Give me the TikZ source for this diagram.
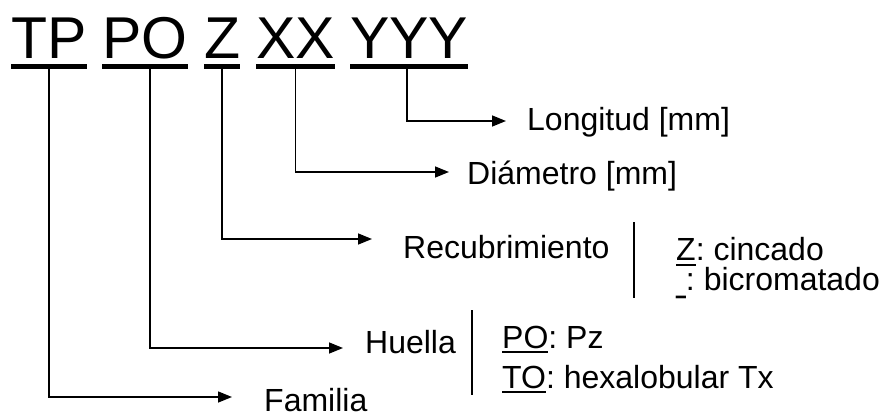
\documentclass[tikz,border=0pt]{standalone}
\usepackage{fontspec}
\usepackage{graphicx}
\setmainfont{Liberation Sans}
\usetikzlibrary{arrows.meta}
\frenchspacing
\newcommand\ulx[1]{\setbox0\hbox{#1}\rlap{\rule[-5pt]{\wd0}{2pt}}\box0}
\newcommand\narrowus{\scalebox{0.55}[1.3]{\_}}
\begin{document}
\begin{tikzpicture}[x=1pt,y=-1pt,
  big/.style={inner sep=0pt,anchor=base west,font=\fontsize{59}{59}\selectfont},
  lbl/.style={inner sep=0pt,anchor=base west,font=\fontsize{32}{32}\selectfont\frenchspacing},
  ulw/.style={line width=5pt},
  conn/.style={line width=1.5pt,-{Triangle[length=14pt,width=11pt]}},
  sep/.style={line width=1.5pt}]
\useasboundingbox (0,0) rectangle (891,415);
% top code
\node[big] (tp) at (11,58) {TP};
\node[big] (po) at (102,58) {PO};
\node[big] (z) at (204,58) {Z};
\node[big] (xx) at (256,58) {XX};
\node[big] (yyy) at (350,58) {YYY};
\foreach \n in {tp,po,z,xx,yyy}
  \draw[ulw] ([yshift=-8pt]\n.base west) -- ([yshift=-8pt]\n.base east);
% labels
\node[lbl] (lon) at (527,130) {Longitud [mm]};
\node[lbl] (dia) at (467,184) {Diámetro [mm]};
\node[lbl] (rec) at (403,258) {Recubrimiento};
\node[lbl,align=left,font=\fontsize{32}{27}\selectfont\frenchspacing] (zc) at (676,290)
  {\ulx{Z}: cincado\\\narrowus: bicromatado};
\node[lbl] (hue) at (365,353) {Huella};
\node[lbl,align=left,font=\fontsize{32}{40}\selectfont\frenchspacing] (pz) at (502,388)
  {\ulx{PO}: Pz\\\ulx{TO}: hexalobular Tx};
\node[lbl] (fam) at (264,411) {Familia};
% connector start points
\coordinate (tps) at ([yshift=-10pt]tp.base);
\coordinate (pos) at ([xshift=5pt,yshift=-10pt]po.base);
\coordinate (zs) at ([yshift=-10pt]z.base);
\coordinate (xxs) at ([yshift=-10pt]xx.base);
\coordinate (yyys) at ([xshift=-2pt,yshift=-10pt]yyy.base);
% arrow tips
\coordinate (lonT) at (506,121);
\coordinate (diaT) at (449,172);
\coordinate (recT) at (372,239);
\coordinate (hueT) at (343,348);
\coordinate (famT) at (232,397);
\draw[conn] (yyys) |- (lonT);
\draw[conn] (xxs) |- (diaT);
\draw[conn] (zs) |- (recT);
\draw[conn] (pos) |- (hueT);
\draw[conn] (tps) |- (famT);
% separators
\coordinate (s1a) at (634,222);
\coordinate (s1b) at (634,298);
\coordinate (s2a) at (472,310);
\coordinate (s2b) at (472,395);
\draw[sep] (s1a) -- (s1b);
\draw[sep] (s2a) -- (s2b);
\end{tikzpicture}
\end{document}
